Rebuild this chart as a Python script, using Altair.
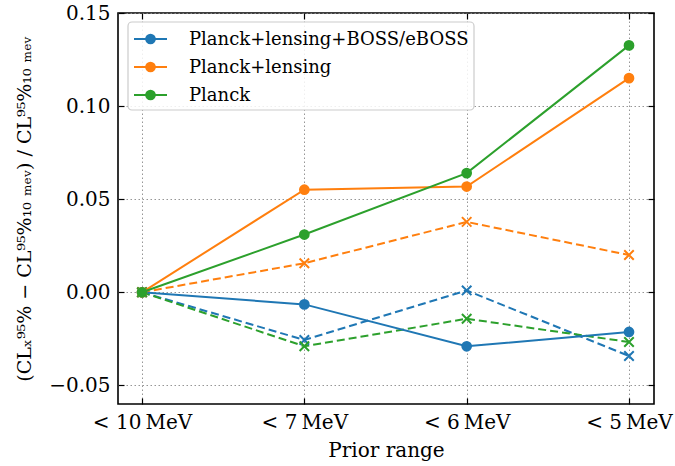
import altair as alt
import pandas as pd

priors = ["< 10\u2009MeV", "< 7\u2009MeV", "< 6\u2009MeV", "< 5\u2009MeV"]
series = ["Planck+lensing+BOSS/eBOSS", "Planck+lensing", "Planck"]
colors = ["#1f77b4", "#ff7f0e", "#2ca02c"]

solid_boss = [0.0, -0.0065, -0.0290, -0.0213]
solid_lens = [0.0, 0.0551, 0.0568, 0.1150]
solid_planck = [0.0, 0.0310, 0.0640, 0.1326]
dashed_boss = [0.0, -0.0256, 0.0010, -0.0342]
dashed_lens = [0.0, 0.0156, 0.0378, 0.0200]
dashed_planck = [0.0, -0.0290, -0.0142, -0.0267]

solid = [solid_boss, solid_lens, solid_planck]
dashed = [dashed_boss, dashed_lens, dashed_planck]

rows = []
for k, (s, sv, dv) in enumerate(zip(series, solid, dashed)):
    for i, (a, b) in enumerate(zip(sv, dv)):
        rows.append({"series": s, "order": k, "i": i, "solid": a, "dashed": b})
df = pd.DataFrame(rows)
legend_df = pd.DataFrame({"series": series, "row": list(range(len(series)))})

W, H = 536, 391
XD = [-0.148, 3.154]
YD = [-0.06, 0.15]
FONT = "DejaVu Serif"
FS = 20
xscale = alt.Scale(domain=XD, nice=False, zero=False)
yscale = alt.Scale(domain=YD, nice=False, zero=False)
cscale = alt.Scale(domain=series, range=colors)

label_expr = "[" + ",".join("'" + p + "'" for p in priors) + "][round(datum.value)]"
ylabel_expr = "replace(format(datum.value, '.2f'), '-', '\u2212')"

common_axis = dict(offset=-6, tickSize=6, domain=False, tickColor="black", tickWidth=1.2,
                   labelFont=FONT, labelFontSize=FS, labelColor="black",
                   titleFont=FONT, titleFontSize=FS, titleFontWeight="normal", titleColor="black")
grid_kw = dict(grid=True, gridDash=[1.5, 2.5], gridColor="#8a8a8a", gridWidth=0.9)

x_bottom = alt.X("i:Q", scale=xscale,
                 axis=alt.Axis(orient="bottom", values=[0, 1, 2, 3], labelExpr=label_expr,
                               title="Prior range", labelPadding=8, titlePadding=8,
                               **grid_kw, **common_axis))
y_left = alt.Y("solid:Q", scale=yscale,
               axis=alt.Axis(orient="left", values=[-0.05, 0.0, 0.05, 0.10, 0.15],
                             labelExpr=ylabel_expr, labelPadding=8,
                             title="(CLₓ⁹⁵% \u2212 CL⁹⁵%₁₀ ₘₑᵥ) / CL⁹⁵%₁₀ ₘₑᵥ",
                             titlePadding=14, **grid_kw,
                             **{**common_axis, "titleFontSize": 19}))
x_top = alt.X("i:Q", scale=xscale,
              axis=alt.Axis(orient="top", values=[0, 1, 2, 3], labels=False, title=None,
                            grid=False, **common_axis))
y_right = alt.Y("dashed:Q", scale=yscale,
                axis=alt.Axis(orient="right", values=[-0.05, 0.0, 0.05, 0.10, 0.15],
                              labels=False, title=None, grid=False, **common_axis))

x_none = alt.X("i:Q", scale=xscale, axis=None)
col = alt.Color("series:N", scale=cscale, legend=None)

base = alt.Chart(df)

solid_lines = base.mark_line(strokeWidth=2).encode(
    x=x_bottom, y=y_left, color=col, order=alt.Order("i:Q"))
dashed_lines = base.mark_line(strokeWidth=2, strokeDash=[8, 4]).encode(
    x=x_none, y=alt.Y("dashed:Q", scale=yscale, axis=None), color=col, order=alt.Order("i:Q"))
xpath = "M-1,-1L1,1M-1,1L1,-1"
dashed_pts = base.mark_point(shape=xpath, filled=False, size=90, strokeWidth=2, opacity=1).encode(
    x=x_top, y=y_right, color=col)
solid_pts = base.mark_point(shape="circle", filled=True, size=115, opacity=1).encode(
    x=x_none, y=alt.Y("solid:Q", scale=yscale, axis=None), color=col)

# ---- legend box (matplotlib style, upper left) ----
def px2x(p):
    return f"{XD[0]} + ({p}) * {(XD[1] - XD[0]) / W}"

def py2y(p):
    return f"{YD[1]} - ({p}) * {(YD[1] - YD[0]) / H}"

leg = alt.Chart(legend_df).transform_calculate(
    py=py2y("26 + 28 * datum.row"),
    lx0=px2x(16), lx1=px2x(49), lxc=px2x(32.5), ltx=px2x(71),
)
ly = alt.Y("py:Q", scale=yscale, axis=None)
leg_box = alt.Chart(pd.DataFrame({"k": [0]})).transform_calculate(
    bx0=px2x(10), bx1=px2x(356), by0=py2y(9), by1=py2y(97),
).mark_rect(fill="white", fillOpacity=0.85, stroke="#cccccc", strokeWidth=1.2,
            cornerRadius=4).encode(
    x=alt.X("bx0:Q", scale=xscale, axis=None), x2="bx1:Q",
    y=alt.Y("by0:Q", scale=yscale, axis=None), y2="by1:Q",
)
leg_lines = leg.mark_rule(strokeWidth=2).encode(
    x=alt.X("lx0:Q", scale=xscale, axis=None), x2="lx1:Q", y=ly, color=col)
leg_pts = leg.mark_point(shape="circle", filled=True, size=115, opacity=1).encode(
    x=alt.X("lxc:Q", scale=xscale, axis=None), y=ly, color=col)
leg_text = leg.mark_text(align="left", baseline="middle", font=FONT, fontSize=18,
                         color="black", dy=1).encode(
    x=alt.X("ltx:Q", scale=xscale, axis=None), y=ly, text="series:N")

chart = alt.layer(dashed_lines, dashed_pts, solid_lines, solid_pts,
                  leg_box, leg_lines, leg_pts, leg_text).resolve_axis(
    x="independent", y="independent"
).properties(
    width=W, height=H,
    padding={"left": 118, "top": 13, "right": 21, "bottom": 62},
    autosize=alt.AutoSizeParams(type="none"),
).configure_view(stroke="black", strokeWidth=1.6)

chart.save("out.html", embed_options={"renderer": "svg", "actions": False})
